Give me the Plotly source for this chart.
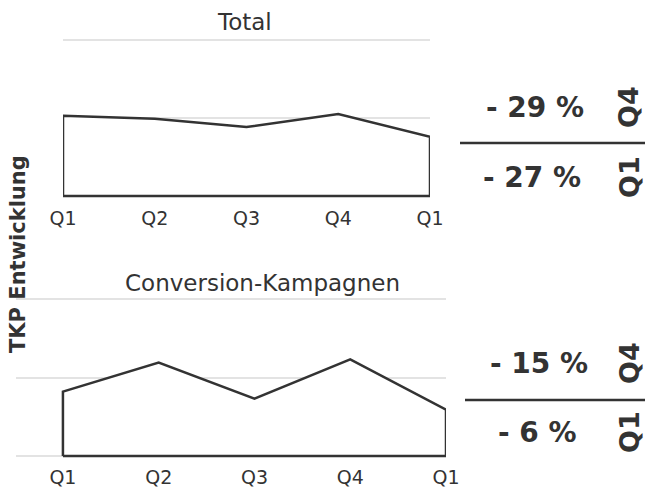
import plotly.graph_objects as go

W, H = 647, 490
quarters = ["Q1", "Q2", "Q3", "Q4", "Q1"]
total_vals = [1.03, 0.99, 0.885, 1.05, 0.76]
conv_vals = [0.82, 1.19, 0.73, 1.23, 0.59]

titles = ["Total", "Conversion-Kampagnen"]
top_changes = ["- 29 %", "- 27 %"]
bottom_changes = ["- 15 %", "- 6 %"]
change_labels = ["Q4", "Q1"]
y_title = "TKP Entwicklung"

FONT = "DejaVu Sans"
DARK = "#333333"
GRID = "#e3e3e3"


def px(x):
    return x / W


def py(y):
    return 1 - y / H


xs = list(range(len(quarters)))

fig = go.Figure()


def add_area(vals, xa, ya):
    x = [xs[0]] + xs + [xs[-1], xs[0]]
    y = [0] + vals + [0, 0]
    fig.add_trace(go.Scatter(x=x, y=y, mode="lines", fill="toself", fillcolor="white",
                             line=dict(color=DARK, width=2.5), xaxis=xa, yaxis=ya,
                             hoverinfo="skip", showlegend=False))


add_area(total_vals, "x", "y")
add_area(conv_vals, "x2", "y2")

axis_common = dict(showgrid=False, zeroline=False, showline=False, automargin=False,
                   tickvals=xs, ticktext=quarters,
                   tickfont=dict(family=FONT, size=19, color=DARK), ticks="")
yaxis_common = dict(showgrid=True, gridcolor=GRID, gridwidth=1.5, zeroline=False,
                    showline=False, showticklabels=False, tick0=0, dtick=1, ticks="",
                    automargin=False, range=[-0.05, 2.05])

fig.update_layout(
    width=W, height=H, margin=dict(l=0, r=0, t=0, b=0, pad=0, autoexpand=False),
    paper_bgcolor="white", plot_bgcolor="white", showlegend=False,
    xaxis=dict(domain=[px(63), px(430)], range=[0, 4], anchor="y",
               ticklabelstandoff=5, **axis_common),
    yaxis=dict(domain=[py(199.9), py(36.1)], anchor="x", **yaxis_common),
    xaxis2=dict(domain=[px(16), px(446)], range=[-0.49, 4], anchor="y2",
                ticklabelstandoff=4, **axis_common),
    yaxis2=dict(domain=[py(459.9), py(295.1)], anchor="x2", **yaxis_common),
)

ann = []
ann.append(dict(text=titles[0], x=px(244), y=py(22)))
ann.append(dict(text=titles[1], x=px(262), y=py(283)))
for a in ann:
    a.update(xref="paper", yref="paper", showarrow=False,
             font=dict(family=FONT, size=23, color=DARK), xanchor="center", yanchor="middle")

big = dict(family=FONT, size=28, color=DARK, weight="bold")
rot = dict(family=FONT, size=27, color=DARK, weight="bold")
right = [
    (top_changes[0], 535, 108, 0, big),
    (top_changes[1], 532, 177, 0, big),
    (bottom_changes[0], 539, 363, 0, big),
    (bottom_changes[1], 537, 432, 0, big),
    (change_labels[0], 629, 107, -90, rot),
    (change_labels[1], 629, 177, -90, rot),
    (change_labels[0], 629, 363, -90, rot),
    (change_labels[1], 629, 432, -90, rot),
]
for t, x, y, ang, f in right:
    ann.append(dict(text=t, x=px(x), y=py(y), xref="paper", yref="paper", showarrow=False,
                    textangle=ang, font=f, xanchor="center", yanchor="middle"))

ann.append(dict(text=y_title, x=px(18), y=py(254), xref="paper", yref="paper",
                showarrow=False, textangle=-90, xanchor="center", yanchor="middle",
                font=dict(family=FONT, size=21, color=DARK, weight="bold")))

fig.update_layout(annotations=ann)

fig.add_shape(type="line", xref="paper", yref="paper", x0=px(460), x1=px(645),
              y0=py(143), y1=py(143), line=dict(color=DARK, width=2.5))
fig.add_shape(type="line", xref="paper", yref="paper", x0=px(465), x1=px(645),
              y0=py(400), y1=py(400), line=dict(color=DARK, width=2.5))

fig.write_html("out.html")
